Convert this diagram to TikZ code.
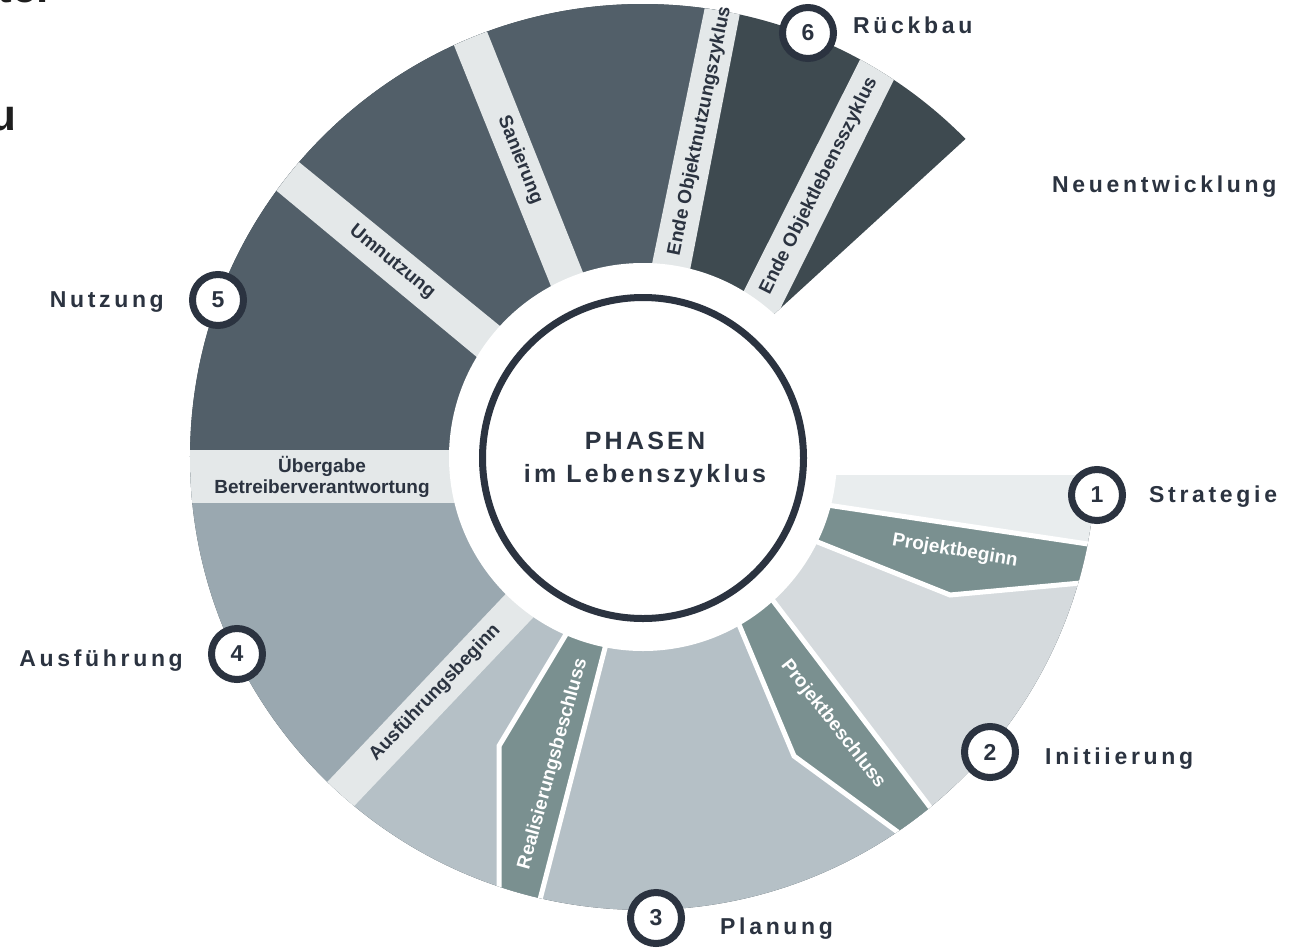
\documentclass[tikz,border=0pt]{standalone}
\usepackage{fontspec}
\setmainfont{Liberation Sans}
\newfontfamily\phasefont[LetterSpace=16]{Liberation Sans}
\newfontfamily\hubfont[LetterSpace=13]{Liberation Sans}
\definecolor{ink}{HTML}{2B3340}
\definecolor{fragink}{HTML}{1E1E1E}
\definecolor{cRueck}{HTML}{3E4A50}
\definecolor{cNutz}{HTML}{525F69}
\definecolor{cAusf}{HTML}{9AA8B0}
\definecolor{cPlan}{HTML}{B5C0C6}
\definecolor{cInit}{HTML}{D5DADD}
\definecolor{cStrat}{HTML}{E9EDEE}
\definecolor{cMile}{HTML}{E4E8E9}
\definecolor{cDec}{HTML}{7A9090}
\tikzset{
  phaselbl/.style={font=\phasefont\bfseries\fontsize{23}{27}\selectfont, text=ink, inner sep=0pt},
  numcirc/.style={circle, draw=ink, line width=7pt, fill=white, minimum size=51pt, inner sep=0pt,
    font=\bfseries\fontsize{23}{27}\selectfont, text=ink},
  bandlbl/.style={font=\bfseries\fontsize{19}{22}\selectfont, text=ink, inner sep=0pt},
  declbl/.style={bandlbl, text=white},
  decision/.style={fill=cDec, draw=white, line width=5pt, line join=miter},
  milestone/.style={fill=cMile},
  hubtext/.style={font=\hubfont\bfseries\fontsize{25}{29}\selectfont, text=ink, inner sep=0pt},
  fragtext/.style={font=\bfseries\fontsize{44}{50}\selectfont, text=fragink, inner sep=0pt}
}
\begin{document}
\begin{tikzpicture}[x=1pt,y=-1pt]
\useasboundingbox (0,0) rectangle (1290,951);

% ---- ring (clipped to the open annulus) ----
\begin{scope}
  \clip (643,475) -- (1095.6,475) arc[start angle=2.28, end angle=315.4, radius=453] -- (643,434) -- cycle;
  % phase regions
  \fill[cRueck] (0,-100) rectangle (1300,1000);
  \fill[cNutz] (643,477) -- (0,477) -- (0,-100) -- (744,-100) -- (671,265) -- cycle;
  \fill[cAusf] (643,477) -- (0,477) -- (0,1000) -- (144,1000) -- (519,606) -- cycle;
  \fill[cPlan] (643,477) -- (519,606) -- (144,1000) -- (1077,1000) -- (776,605) -- cycle;
  \fill[cInit] (643,477) -- (776,605) -- (1077,1000) -- (1300,1000) -- (1300,575.7) -- (830,505.5) -- cycle;
  \fill[cStrat] (643,477) -- (830,505.5) -- (1300,575.7) -- (1300,430) -- (643,430) -- cycle;
  % milestone strips
  \fill[milestone] (0,450) rectangle (700,503);
  \fill[milestone] (594,501) -- (256,857) -- (281,883) -- (623,523) -- cycle;
  \fill[milestone] (199,80.5) -- (603,410) -- (578,441) -- (178,109) -- cycle;
  \fill[milestone] (416,-49) -- (600,408) -- (631,393) -- (449,-64) -- cycle;
  \fill[milestone] (720.6,-69) -- (632,361) -- (670,373) -- (755,-64) -- cycle;
  \fill[milestone] (895,-10) -- (696,386) -- (730,410) -- (930,7) -- cycle;
  % decision bands
  \filldraw[decision] (700,486) -- (1120,548.8) -- (1120,579.4) -- (950,595) -- (700,495) -- cycle;
  \filldraw[decision] (682,481) -- (971,861) -- (940,863) -- (794,756) -- (697,524) -- cycle;
  \filldraw[decision] (637,524) -- (528,946) -- (499,946) -- (499,746) -- (631,526) -- cycle;
\end{scope}

% inner white disk and hub
\fill[white] (643,457) circle[radius=194];
\node[circle, draw=ink, line width=7pt, fill=white, minimum size=321pt, inner sep=0pt] (hub) at (643,458) {};
\node[hubtext, anchor=base] (hubA) at (645,449) {PHASEN};
\node[hubtext, anchor=base] (hubB) at (645,482) {im Lebenszyklus};

% band labels
\node[bandlbl, rotate=-39.2] (tUmn) at (392,262) {Umnutzung};
\node[bandlbl, rotate=-68.1] (tSan) at (520,160) {Sanierung};
\node[bandlbl, rotate=78.4] (tEN) at (700,131) {Ende Objektnutzungszyklus};
\node[bandlbl, rotate=63.3] (tEL) at (819,186) {Ende Objektlebensszyklus};
\node[bandlbl, rotate=46.4] (tAB) at (435,693) {Ausführungsbeginn};
\node[bandlbl, anchor=base] (tUe1) at (322,472) {Übergabe};
\node[bandlbl, anchor=base] (tUe2) at (322,493) {Betreiberverantwortung};
\node[declbl, rotate=-9.5] (tPB) at (955,551) {Projektbeginn};
\node[declbl, rotate=-52] (tPS) at (833,724) {Projektbeschluss};
\node[declbl, rotate=74.6] (tRB) at (553,764) {Realisierungsbeschluss};

% phase numbers
\node[numcirc] (n1) at (1097,495) {1};
\node[numcirc] (n2) at (990,752) {2};
\node[numcirc] (n3) at (656,918) {3};
\node[numcirc] (n4) at (237,654) {4};
\node[numcirc] (n5) at (218,300) {5};
\node[numcirc] (n6) at (808,33) {6};

% phase labels
\node[phaselbl, anchor=base west] (p1) at (1149,502) {Strategie};
\node[phaselbl, anchor=base west] (p2) at (1045,764) {Initiierung};
\node[phaselbl, anchor=base west] (p3) at (720,934) {Planung};
\node[phaselbl, anchor=base east] (p4) at (183,666) {Ausführung};
\node[phaselbl, anchor=base east] (p5) at (164,307) {Nutzung};
\node[phaselbl, anchor=base west] (p6) at (853,33) {Rückbau};
\node[phaselbl, anchor=base west] (p7) at (1052,192) {Neuentwicklung};

% cropped fragments at the left edge
\node[fragtext, anchor=base east] (frag1) at (54,2) {ter};
\node[fragtext, anchor=base west] (frag2) at (-11,130) {u};
\end{tikzpicture}
\end{document}
